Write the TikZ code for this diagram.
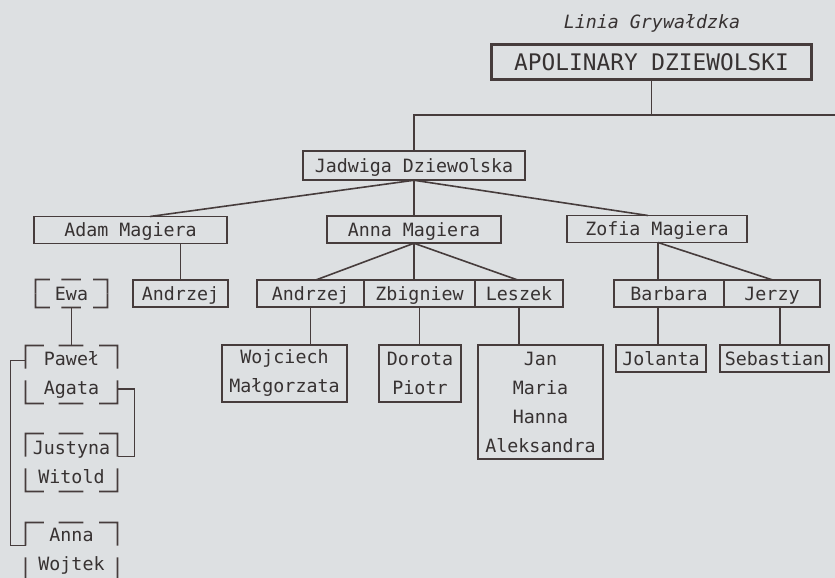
\documentclass[tikz,border=0pt]{standalone}
\usepackage{fontspec}
\setmainfont{DejaVu Sans Mono}
\usetikzlibrary{calc}
\definecolor{bgc}{RGB}{221,224,226}
\definecolor{lnc}{RGB}{70,60,60}
\definecolor{txc}{RGB}{55,50,50}
\tikzset{
  base/.style={inner sep=0pt, outer sep=0pt, text=txc, font=\fontsize{18.3}{29}\selectfont, align=center},
  box/.style={base, draw=lnc, line width=1.8pt},
  thickbox/.style={base, draw=lnc, line width=2.8pt},
  nobox/.style={base},
  one/.style={text height=17pt, text depth=3.7pt},
  wh/.style 2 args={minimum width=#1pt, minimum height=#2pt},
  conn/.style={draw=lnc, line width=1.6pt},
  cline/.style={draw=lnc, line width=1.6pt},
}
\newcommand{\cornerbox}[2]{%
  \draw[cline] ($(#1.north west)!0.2!(#1.north east)$) -- (#1.north west) -- ($(#1.north west)!#2!(#1.south west)$);
  \draw[cline] ($(#1.north east)!0.2!(#1.north west)$) -- (#1.north east) -- ($(#1.north east)!#2!(#1.south east)$);
  \draw[cline] ($(#1.south west)!0.2!(#1.south east)$) -- (#1.south west) -- ($(#1.south west)!#2!(#1.north west)$);
  \draw[cline] ($(#1.south east)!0.2!(#1.south west)$) -- (#1.south east) -- ($(#1.south east)!#2!(#1.north east)$);
  \draw[cline] ($(#1.north west)!0.36!(#1.north east)$) -- ($(#1.north west)!0.63!(#1.north east)$);
  \draw[cline] ($(#1.south west)!0.36!(#1.south east)$) -- ($(#1.south west)!0.63!(#1.south east)$);
}
\begin{document}
\begin{tikzpicture}[x=1pt,y=-1pt]
\fill[bgc] (0,0) rectangle (835,578);
\useasboundingbox (0,0) rectangle (835,578);
\clip (0,0) rectangle (835,578);

% nodes
\node[base, font=\fontsize{18.3}{22}\selectfont\itshape] (title) at (652,23) {Linia Grywałdzka};
\node[box, line width=3.8pt, wh={320}{35}, font=\fontsize{22.8}{28}\selectfont, text height=21pt, text depth=4.4pt] (apol) at (651.5,62) {APOLINARY DZIEWOLSKI};
\node[box,one,wh={222}{29.5}] (jad) at (414,165.5) {Jadwiga Dziewolska};
\node[box,one,wh={193}{27}] (adam) at (130.5,230) {Adam Magiera};
\node[box,one,wh={174}{27.5}] (anna) at (414,229.5) {Anna Magiera};
\node[box,one,wh={180}{27}] (zofia) at (657,229) {Zofia Magiera};
\node[nobox,one,wh={72}{28}] (ewa) at (71.5,293.5) {Ewa};
\node[thickbox,one,wh={95}{27}] (andA) at (180.5,293.5) {Andrzej};
\node[box,one,wh={107}{27.5}] (andB) at (310.5,293.5) {Andrzej};
\node[box,one,wh={111}{27.5}] (zbig) at (419.5,293.5) {Zbigniew};
\node[box,one,wh={88}{27.5}] (lesz) at (519,293.5) {Leszek};
\node[box,one,wh={110}{27.5}] (barb) at (669,293.5) {Barbara};
\node[box,one,wh={96}{27.5}] (jerz) at (772,293.5) {Jerzy};
\node[nobox,wh={92}{58}] (pa) at (71.5,374.5) {Paweł\\Agata};
\node[box,wh={125.5}{57.5}] (woj) at (284.5,373.5) {Wojciech\\Małgorzata};
\node[box,wh={82.5}{57.5}] (dor) at (420,373.5) {Dorota\\Piotr};
\node[box,wh={125.5}{114.5}] (jan) at (540.5,402) {Jan\\Maria\\Hanna\\Aleksandra};
\node[box,one,wh={90.5}{27.5}] (jol) at (661,358.5) {Jolanta};
\node[box,one,wh={109.5}{27.5}] (seb) at (774.5,358.5) {Sebastian};
\node[nobox,wh={92}{58}] (jw) at (71.5,462.5) {Justyna\\Witold};
\node[nobox,wh={92}{58}] (aw) at (71.5,551.5) {Anna\\Wojtek};

% broken-outline boxes
\cornerbox{ewa}{0.5}
\cornerbox{pa}{0.4}
\cornerbox{jw}{0.4}
\cornerbox{aw}{0.4}

% connectors
\coordinate (hr) at (835,115);
\draw[conn] (apol.south) -- (apol.south |- hr);
\draw[conn] (jad.north) |- (hr);
\draw[conn] (jad.south) -- ([xshift=19.5pt]adam.north);
\draw[conn] (jad.south) -- (anna.north);
\draw[conn] (jad.south) -- ([xshift=-9pt]zofia.north);
\draw[conn] (andA.north) -- (andA.north |- adam.south);
\draw[conn] (anna.south) -- ([xshift=6pt]andB.north);
\draw[conn] (anna.south) -- (anna.south |- zbig.north);
\draw[conn] (anna.south) -- ([xshift=-2pt]lesz.north);
\draw[conn] ([xshift=1pt]zofia.south) -- ([xshift=1pt]zofia.south |- barb.north);
\draw[conn] ([xshift=1pt]zofia.south) -- (jerz.north);
\draw[conn] (andB.south) -- (andB.south |- woj.north);
\draw[conn] (zbig.south) -- (zbig.south |- dor.north);
\draw[conn] (lesz.south) -- (lesz.south |- jan.north);
\draw[conn] ([xshift=-3pt]jol.north) -- ([xshift=-3pt]jol.north |- barb.south);
\draw[conn] ([xshift=5.5pt]seb.north) -- ([xshift=5.5pt]seb.north |- jerz.south);
\draw[conn] (ewa.south) -- (pa.north);
\draw[conn] ([yshift=-15pt]pa.north west) -- ++(-15pt,0) |- ([yshift=-23pt]aw.north west);
\draw[conn] ([yshift=14.5pt]pa.south east) -- ++(17pt,0) |- ([yshift=-23pt]jw.north east);
\end{tikzpicture}
\end{document}
